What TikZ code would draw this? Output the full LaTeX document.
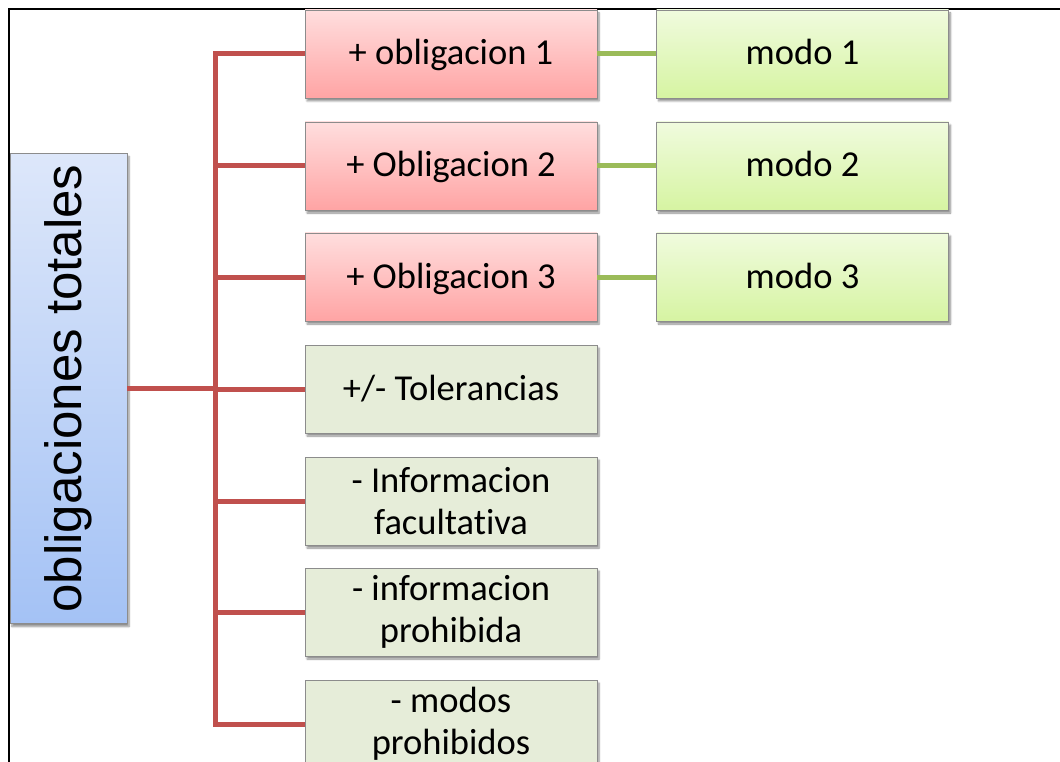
\documentclass[tikz,border=0pt]{standalone}
\usepackage{fontspec}
\setmainfont{Carlito}[Ligatures=NoCommon]
\newfontfamily\headfont{Liberation Sans}
\usetikzlibrary{shadows.blur}

\definecolor{boxedge}{HTML}{8C8C8C}
\definecolor{redline}{HTML}{C0504D}
\definecolor{greenline}{HTML}{9BBB59}
\definecolor{redtop}{HTML}{FFDEDE}
\definecolor{redbot}{HTML}{FFA4A4}
\definecolor{greentop}{HTML}{F0FBDE}
\definecolor{greenbot}{HTML}{D6F4A2}
\definecolor{palefill}{HTML}{E6EDD9}
\definecolor{bluetop}{HTML}{DDE7FA}
\definecolor{bluebot}{HTML}{A4C2F5}

\begin{document}
\begin{tikzpicture}[x=1pt,y=-1pt,
  card/.style={draw=boxedge, line width=0.8pt, inner sep=0pt, align=center,
    minimum width=292pt, minimum height=88pt,
    font=\fontsize{36.5}{42}\selectfont,
    blur shadow={shadow xshift=2pt, shadow yshift=-3pt, shadow blur steps=6, shadow opacity=45}},
  oneline/.style={text height=30pt, text depth=8pt},
  dutybox/.style={card, oneline, top color=redtop, bottom color=redbot},
  modebox/.style={card, oneline, top color=greentop, bottom color=greenbot},
  notebox/.style={card, fill=palefill},
  rootbox/.style={card, minimum width=117pt, minimum height=470pt, top color=bluetop, bottom color=bluebot},
  redlink/.style={draw=redline, line width=5pt},
  greenlink/.style={draw=greenline, line width=5pt}]

\useasboundingbox (0,0) rectangle (1060,762);

% outer frame
\draw[line width=2pt] (9,780) -- (9,9) -- (1080,9);

% main topic
\node[rootbox] (root) at (68.5,388.5) {\rotatebox{90}{\fontsize{51}{60}\selectfont\headfont obligaciones totales}};

% second level
\node[dutybox] (o1) at (451,54)  {+ obligacion 1};
\node[dutybox] (o2) at (451,166) {+ Obligacion 2};
\node[dutybox] (o3) at (451,277) {+ Obligacion 3};
\node[notebox, oneline] (o4) at (451,389) {+/- Tolerancias};
\node[notebox] (o5) at (451,501) {- Informacion\\facultativa};
\node[notebox] (o6) at (451,612) {- informacion\\prohibida};
\node[notebox] (o7) at (451,724) {- modos\\prohibidos};

% third level
\node[modebox] (m1) at (802.5,54)  {modo 1};
\node[modebox] (m2) at (802.5,166) {modo 2};
\node[modebox] (m3) at (802.5,277) {modo 3};

% tree connectors
\coordinate (trunk) at (215,0);
\draw[redlink] (root.east) -- (root.east -| trunk);
\draw[redlink] (o1.west) -- (o1.west -| trunk) -- (o7.west -| trunk) -- (o7.west);
\foreach \n in {o2,o3,o4,o5,o6}
  \draw[redlink] (\n.west -| trunk) -- (\n.west);

\foreach \a/\b in {o1/m1,o2/m2,o3/m3}
  \draw[greenlink] (\a.east) -- (\b.west);
\end{tikzpicture}
\end{document}
